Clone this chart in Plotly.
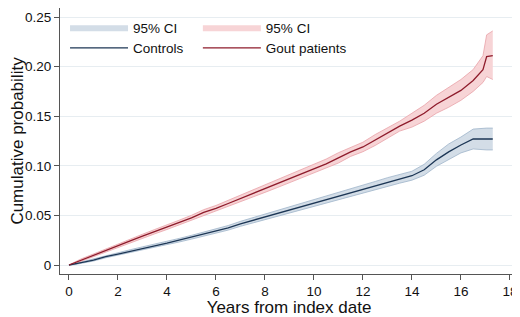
import plotly.graph_objects as go

years = [0, 0.25, 0.5, 1, 1.5, 2, 2.5, 3, 3.5, 4, 4.5, 5, 5.5, 6, 6.5, 7, 7.5, 8, 8.5, 9,
         9.5, 10, 10.5, 11, 11.5, 12, 12.5, 13, 13.5, 14, 14.5, 15, 15.5, 16, 16.5, 16.9, 17.05, 17.3]

gout = [0, 0.0025, 0.005, 0.0098, 0.0147, 0.0195, 0.0243, 0.029, 0.0336, 0.038, 0.0428, 0.0475,
        0.053, 0.057, 0.062, 0.067, 0.072, 0.077, 0.082, 0.087, 0.092, 0.097, 0.102, 0.108,
        0.114, 0.119, 0.126, 0.133, 0.140, 0.146, 0.153, 0.162, 0.169, 0.176, 0.186, 0.197, 0.210, 0.211]
gout_lo = [0, 0.0015, 0.0038, 0.0085, 0.0132, 0.0178, 0.0225, 0.027, 0.0314, 0.0358, 0.0404, 0.0449,
           0.0502, 0.054, 0.0588, 0.0636, 0.0684, 0.0732, 0.078, 0.0828, 0.0876, 0.0925, 0.0972, 0.1028,
           0.1095, 0.1142, 0.1205, 0.1275, 0.135, 0.139, 0.145, 0.153, 0.159, 0.166, 0.175, 0.184, 0.190, 0.187]
gout_hi = [0, 0.0035, 0.0062, 0.0111, 0.0162, 0.0212, 0.0261, 0.031, 0.0358, 0.0402, 0.0452, 0.0501,
           0.0558, 0.060, 0.0652, 0.0704, 0.0756, 0.0808, 0.086, 0.0912, 0.0964, 0.1015, 0.1068, 0.1132,
           0.1185, 0.1238, 0.1315, 0.1385, 0.145, 0.153, 0.161, 0.171, 0.179, 0.187, 0.197, 0.211, 0.232, 0.236]

controls = [0, 0.001, 0.0025, 0.005, 0.0085, 0.011, 0.014, 0.0168, 0.0193, 0.022, 0.025, 0.028,
            0.031, 0.034, 0.0375, 0.0415, 0.045, 0.0485, 0.052, 0.0555, 0.059, 0.0625, 0.066, 0.0695,
            0.073, 0.0765, 0.080, 0.0835, 0.087, 0.090, 0.096, 0.106, 0.114, 0.121, 0.127, 0.127, 0.127, 0.127]
controls_lo = [0, 0.0004, 0.0017, 0.004, 0.0073, 0.0097, 0.0126, 0.0153, 0.0177, 0.0203, 0.0232, 0.0261,
               0.029, 0.0319, 0.0352, 0.039, 0.0424, 0.0458, 0.0492, 0.0526, 0.056, 0.0594, 0.0627, 0.066,
               0.0693, 0.0727, 0.0758, 0.079, 0.0825, 0.0855, 0.0905, 0.0995, 0.106, 0.113, 0.117, 0.116, 0.116, 0.116]
controls_hi = [0, 0.0016, 0.0033, 0.006, 0.0097, 0.0123, 0.0154, 0.0183, 0.0209, 0.0237, 0.0268, 0.0299,
               0.033, 0.0361, 0.0398, 0.044, 0.0476, 0.0512, 0.0548, 0.0584, 0.062, 0.0656, 0.0693, 0.073,
               0.0767, 0.0803, 0.0842, 0.088, 0.0915, 0.0945, 0.1015, 0.1125, 0.122, 0.129, 0.137, 0.138, 0.138, 0.138]

x_ticks = [0, 2, 4, 6, 8, 10, 12, 14, 16, 18]
y_ticks = [0, 0.05, 0.10, 0.15, 0.20, 0.25]
y_labels = ["0", "0.05", "0.10", "0.15", "0.20", "0.25"]

BLUE_LINE = "#1c3655"
BLUE_FILL = "#d3dde7"
BLUE_EDGE = "#9fb5ca"
RED_LINE = "#8e1b2b"
RED_FILL = "#f7d4d6"
RED_EDGE = "#e9a2a8"

FONT = "Liberation Sans, Arial, sans-serif"
TXT = "#111111"

fig = go.Figure()


def add_band(lo, hi, fill, edge, leg):
    fig.add_trace(go.Scatter(x=years, y=lo, mode="lines", line=dict(color=edge, width=0.8),
                             showlegend=False, hoverinfo="skip", legend=leg))
    fig.add_trace(go.Scatter(x=years, y=hi, mode="lines", fill="tonexty", fillcolor=fill,
                             line=dict(width=0, color=fill), name="95% CI", legend=leg))
    fig.add_trace(go.Scatter(x=years, y=hi, mode="lines", line=dict(color=edge, width=0.8),
                             showlegend=False, hoverinfo="skip", legend=leg))


add_band(controls_lo, controls_hi, BLUE_FILL, BLUE_EDGE, "legend")
add_band(gout_lo, gout_hi, RED_FILL, RED_EDGE, "legend2")

fig.add_trace(go.Scatter(x=years, y=controls, mode="lines",
                         line=dict(color=BLUE_LINE, width=1.3),
                         name="Controls", legend="legend"))
fig.add_trace(go.Scatter(x=years, y=gout, mode="lines",
                         line=dict(color=RED_LINE, width=1.3),
                         name="Gout patients", legend="legend2"))

legend_common = dict(font=dict(family=FONT, size=13.5, color=TXT),
                     bgcolor="rgba(0,0,0,0)", borderwidth=0,
                     yanchor="top", xanchor="left", y=0.985,
                     itemwidth=58, tracegroupgap=0, traceorder="normal")

# page has an 8px body margin, so the figure is sized 512x309
fig.update_layout(
    width=512, height=309,
    margin=dict(l=52, r=2, t=0, b=43),
    paper_bgcolor="white", plot_bgcolor="white",
    font=dict(family=FONT, size=13.5, color=TXT),
    legend=dict(x=0.011, **legend_common),
    legend2=dict(x=0.301, **legend_common),
    xaxis=dict(range=[-0.367, 18.33], tickvals=x_ticks, showgrid=False, zeroline=False,
               showline=True, linecolor="#555", linewidth=1, ticks="outside",
               ticklen=5, tickcolor="#555", tickfont=dict(size=13.5, color=TXT),
               automargin=False,
               title=dict(text="Years from index date", font=dict(size=17, color=TXT),
                          standoff=2)),
    yaxis=dict(range=[-0.00907, 0.25907], tickvals=y_ticks, ticktext=y_labels,
               showgrid=True, gridcolor="#e7edf1", gridwidth=1, zeroline=False,
               showline=True, linecolor="#555", linewidth=1, ticks="outside",
               ticklen=5, tickcolor="#555", tickfont=dict(size=13.5, color=TXT),
               ticklabeloverflow="allow",
               automargin=False,
               title=dict(text="Cumulative probability", font=dict(size=17, color=TXT),
                          standoff=12)),
)

fig.write_html("out.html")
